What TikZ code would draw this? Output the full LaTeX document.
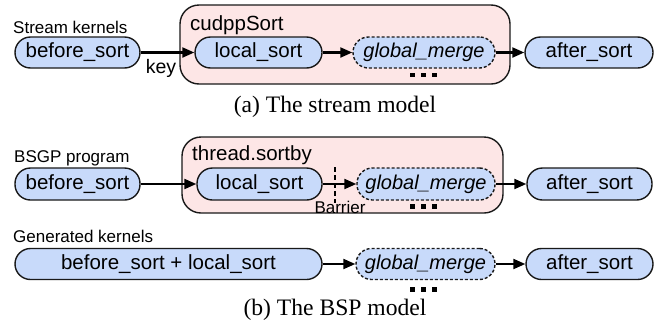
\documentclass[tikz,border=0pt]{standalone}
\usepackage{fontspec}
\setmainfont{Liberation Sans}
\newfontfamily\capfont{Liberation Serif}
\usetikzlibrary{arrows.meta}
\definecolor{pillblue}{RGB}{200,218,250}
\definecolor{boxpink}{RGB}{253,230,230}
\definecolor{edge}{RGB}{25,25,25}
\begin{document}
\begin{tikzpicture}[x=1pt,y=-1pt,
  pill/.style={draw=edge, line width=1.4pt, fill=pillblue, rounded corners=15.5pt,
    minimum height=31pt, inner sep=0pt, font=\fontsize{20.5}{24}\selectfont},
  dpill/.style={pill, dash pattern=on 3pt off 2pt, font=\fontsize{20}{24}\selectfont\itshape},
  group/.style={draw=edge, line width=1.4pt, fill=boxpink, rounded corners=19pt, inner sep=0pt},
  lab/.style={anchor=base west, inner sep=0pt, font=\fontsize{17}{20}\selectfont},
  glab/.style={anchor=base west, inner sep=0pt, font=\fontsize{20.5}{24}\selectfont},
  captxt/.style={anchor=base, inner sep=0pt, font=\capfont\fontsize{23.6}{28}\selectfont},
  flow/.style={draw=black, line width=2.1pt, -{Triangle[length=12pt,width=10pt]}},
  dotsq/.style={fill=black}
]
\useasboundingbox (0,0) rectangle (658,327);

% group boxes
\node[group, minimum width=330pt, minimum height=79pt] (box1) at (345,44.5) {};
\node[group, minimum width=321pt, minimum height=76pt] (box2) at (342.5,175) {};

% labels
\node[lab] (lk1) at (13,33.5) {Stream kernels};
\node[glab] (lc1) at (190,30) {cudppSort};
\node[lab] (lk2) at (14,162) {BSGP program};
\node[glab] (lc2) at (192,160) {thread.sortby};
\node[lab] (lk3) at (13,242) {Generated kernels};

% row 1
\node[pill, minimum width=125pt] (bs1) at (77.5,52.5) {before\_sort};
\node[pill, minimum width=127pt] (ls1) at (258.5,52.5) {local\_sort};
\node[dpill, minimum width=142pt] (gm1) at (424,52.5) {global\_merge};
\node[pill, minimum width=128pt] (as1) at (589,52.5) {after\_sort};

% row 2
\node[pill, minimum width=125pt, minimum height=32pt] (bs2) at (77.5,184) {before\_sort};
\node[pill, minimum width=125pt, minimum height=32pt] (ls2) at (259.5,184) {local\_sort};
\node[dpill, minimum width=138pt, minimum height=32pt] (gm2) at (426,184) {global\_merge};
\node[pill, minimum width=125pt, minimum height=32pt] (as2) at (589.5,184) {after\_sort};

% row 3
\node[pill, minimum width=307pt] (bl3) at (168.5,264) {before\_sort + local\_sort};
\node[dpill, minimum width=139pt] (gm3) at (425.5,264) {global\_merge};
\node[pill, minimum width=127pt] (as3) at (589.5,264) {after\_sort};

% connectors
\draw[flow] (bs1.east) -- node[pos=0.38, below=6pt, inner sep=0pt, font=\fontsize{19.5}{22}\selectfont] (key) {key} (ls1.west);
\draw[flow] (ls1.east) -- (gm1.west);
\draw[flow] (gm1.east) -- (as1.west);

\draw[flow] (bs2.east) -- (ls2.west);
\draw[flow] (ls2.east) -- (gm2.west);
\draw[flow] (gm2.east) -- (as2.west);

\draw[flow] (bl3.east) -- (gm3.west);
\draw[flow] (gm3.east) -- (as3.west);

% barrier
\coordinate (bt) at (335,167);
\coordinate (bb) at (335,203);
\draw[line width=1.4pt, dash pattern=on 5pt off 3pt] (bt) -- (bb);
\node[lab, anchor=base] (barrier) at (340,213.5) {Barrier};

% ellipsis dots
\foreach \yy in {75,206.5,289.5}{
  \foreach \xx in {412.5,423.5,434.5}{
    \fill[dotsq] (\xx-2.4,\yy-2.4) rectangle (\xx+2.4,\yy+2.4);
  }
}

% captions
\node[captxt] (capa) at (335,112.5) {(a) The stream model};
\node[captxt] (capb) at (335,315) {(b) The BSP model};
\end{tikzpicture}
\end{document}
